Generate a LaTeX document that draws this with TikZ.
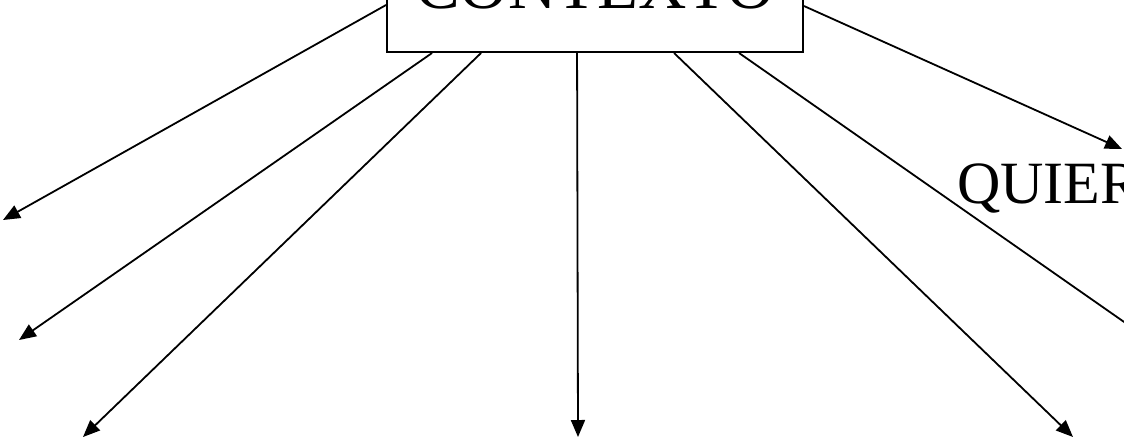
\documentclass[tikz,border=0pt]{standalone}
\usepackage{fontspec}
\setmainfont{Liberation Serif}
\usetikzlibrary{arrows.meta,calc}

\tikzset{
    caja/.style={draw=black, rectangle, line width=1.9pt, fill=white, inner sep=0pt, minimum width=416pt, text depth=44pt, font=\fontsize{67}{70}\selectfont},
    flecha/.style={-{Triangle[length=17pt, width=14pt]}, line width=1.8pt},
    rotulo/.style={inner sep=0pt, font=\fontsize{60}{64}\selectfont}
}

\begin{document}
\begin{tikzpicture}[x=1pt, y=-1pt]
    %   Recorte del dibujo
    \clip (0,0) rectangle (1124,445);
    \fill[white] (0,0) rectangle (1124,445);
    %   Caja central y texto de la derecha
    \node[caja, anchor=south] (contexto) at (595,53) {CONTEXTO};
    \node[rotulo, anchor=base west] (quiere) at (957,203) {QUIERE};
    %   Puntos de llegada de las flechas
    \coordinate (fin1) at (3,220);
    \coordinate (fin2) at (19,340);
    \coordinate (fin3) at (83,437);
    \coordinate (fin4) at (578,437);
    \coordinate (fin5) at (1073,437);
    \coordinate (fin6) at (1200,375);
    \coordinate (fin7) at (1122,149);
    %   Flechas que salen de la caja
    \draw[flecha] ($(contexto.south west)+(0,-48)$) -- (fin1);
    \draw[flecha] ($(contexto.south west)+(46,0)$) -- (fin2);
    \draw[flecha] ($(contexto.south west)+(95,0)$) -- (fin3);
    \draw[flecha] ($(contexto.south west)+(191,0)$) -- (fin4);
    \draw[flecha] ($(contexto.south west)+(288,0)$) -- (fin5);
    \draw[flecha] ($(contexto.south west)+(353,0)$) -- (fin6);
    \draw[flecha] ($(contexto.south east)+(0,-47)$) -- (fin7);
\end{tikzpicture}
\end{document}
